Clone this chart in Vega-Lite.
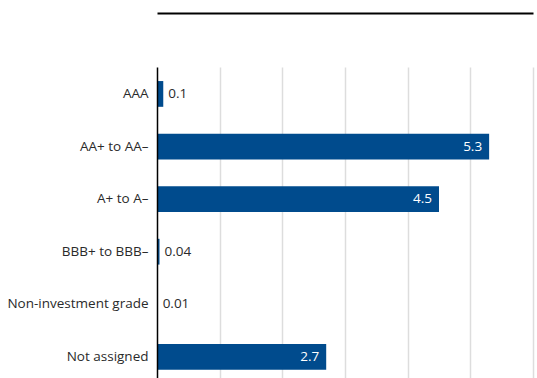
{
  "$schema": "https://vega.github.io/schema/vega-lite/v6.json",
  "autosize": "none",
  "width": 376,
  "height": 311,
  "padding": {"left": 157, "top": 67, "right": 4, "bottom": 0},
  "background": "white",
  "config": {
    "view": {"stroke": null},
    "font": "Open Sans",
    "text": {"font": "Open Sans"}
  },
  "data": {
    "values": [
      {"rating": "AAA", "value": 0.1},
      {"rating": "AA+ to AA–", "value": 5.3},
      {"rating": "A+ to A–", "value": 4.5},
      {"rating": "BBB+ to BBB–", "value": 0.04},
      {"rating": "Non-investment grade", "value": 0.01},
      {"rating": "Not assigned", "value": 2.7}
    ]
  },
  "encoding": {
    "y": {
      "field": "rating",
      "type": "nominal",
      "sort": null,
      "scale": {"paddingInner": 0.51, "paddingOuter": 0.212, "align": 0.63},
      "axis": {
        "title": null,
        "ticks": false,
        "labelPadding": 9,
        "labelFont": "Open Sans",
        "labelFontSize": 13.5,
        "labelColor": "#2a2a2a",
        "domainColor": "#000000",
        "domainWidth": 1.5,
        "zindex": 1
      }
    },
    "x": {
      "field": "value",
      "type": "quantitative",
      "scale": {"domain": [0, 6], "nice": false},
      "axis": {
        "orient": "top",
        "offset": 54,
        "title": null,
        "labels": false,
        "ticks": false,
        "values": [1, 2, 3, 4, 5, 6],
        "grid": true,
        "gridColor": "#dddddd",
        "gridWidth": 1.5,
        "domainColor": "#000000",
        "domainWidth": 2
      }
    }
  },
  "layer": [
    {"mark": {"type": "bar", "color": "#004b8d"}},
    {
      "transform": [{"filter": "datum.value >= 1"}],
      "mark": {"type": "text", "align": "right", "baseline": "middle", "dx": -7, "fontSize": 13.5, "color": "#ffffff"},
      "encoding": {"text": {"field": "value", "type": "quantitative"}}
    },
    {
      "transform": [{"filter": "datum.value < 1"}],
      "mark": {"type": "text", "align": "left", "baseline": "middle", "dx": 5, "fontSize": 13.5, "color": "#2a2a2a"},
      "encoding": {"text": {"field": "value", "type": "quantitative"}}
    }
  ]
}
